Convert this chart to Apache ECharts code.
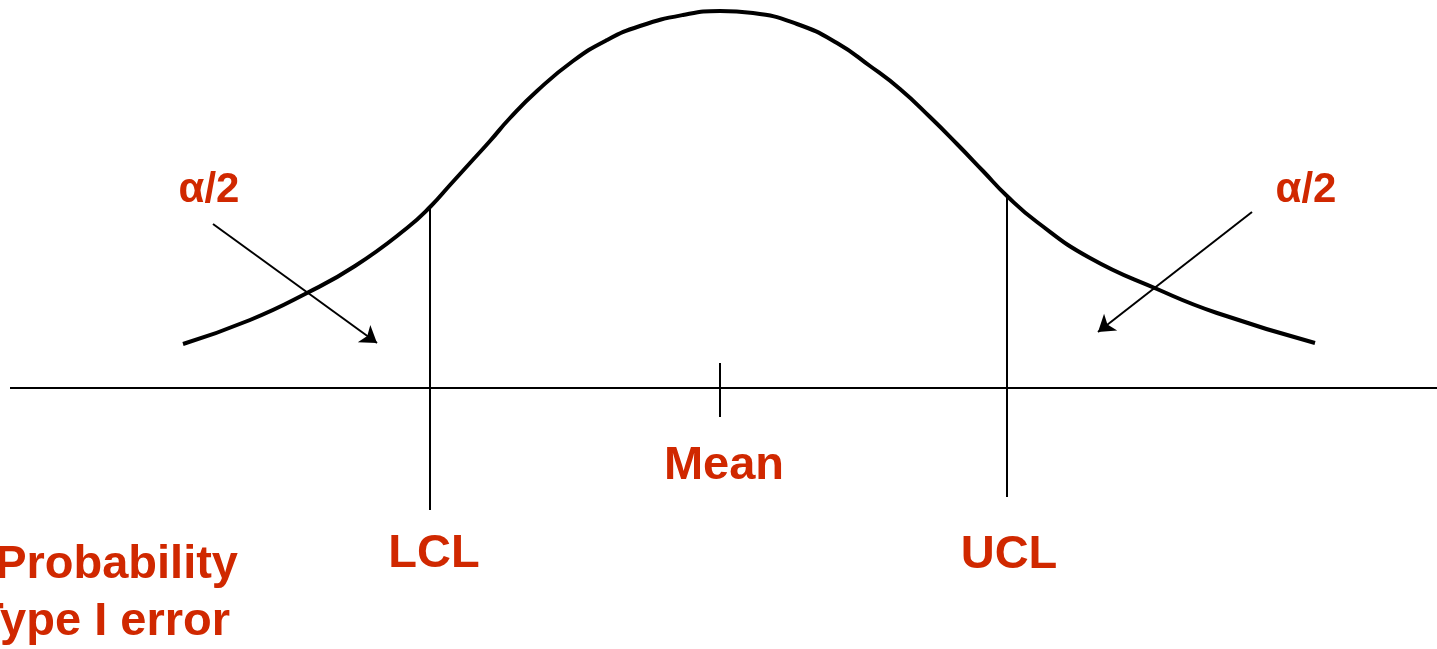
<!DOCTYPE html>
<html>
<head>
<meta charset="utf-8">
<script src="https://cdn.jsdelivr.net/npm/echarts@6/dist/echarts.min.js"></script>
<style>
  html, body { margin: 0; padding: 0; background: #fff; }
  #chart { width: 1437px; height: 649px; }
</style>
</head>
<body>
<div id="chart"></div>
<script>
// bell curve (x position, height above the baseline)
const curveX = [183, 250, 307, 355, 407, 431, 450, 470, 490, 510, 537, 573, 607, 640, 683, 720, 753, 797, 837, 870, 900, 930, 957, 983, 1007, 1037, 1090, 1157, 1217, 1315];
const curveY = [44, 68, 95, 122, 160, 182, 203, 225, 247, 270, 297, 327, 348, 362, 373, 377, 375, 364, 345, 322, 299, 271, 244, 217, 192, 166, 130, 99, 75, 45];

// control limits and mean
const limitX = [430, 1007];
const limitTop = [182, 192];
const limitBottom = [-122, -109];
const meanX = 720;
const meanTick = [25, -29];

// baseline
const baseFrom = 10;
const baseTo = 1437;

// arrows pointing at the tails: [x1, y1, x2, y2]
const arrowLeft = [213, 164, 377, 45];
const arrowRight = [1252, 176, 1098, 56];

// text labels
const bigText = ['Mean', 'LCL', 'UCL'];
const bigX = [724, 434, 1009];
const bigY = [-78, -166, -167];
const alphaText = ['α/2', 'α/2'];
const alphaX = [209, 1306];
const alphaY = [198, 198];
const noteText = ['Probability', 'Type I error'];
const noteX = [238, 230];
const noteY = [-177, -234];

const red = '#d02800';

let myChart = echarts.init(document.getElementById('chart'));

function seg(x1, y1, x2, y2) {
  return [[x1, y1], [x2, y2]];
}

let lineSeries = function (data, width) {
  return {
    type: 'line',
    data: data,
    symbol: 'none',
    silent: true,
    lineStyle: { color: '#000', width: width },
    z: 2
  };
};

let labels = [];
bigText.forEach((t, i) => {
  labels.push({ name: t, value: [bigX[i], bigY[i]], label: { fontSize: 47, align: 'center' } });
});
alphaText.forEach((t, i) => {
  labels.push({ name: t, value: [alphaX[i], alphaY[i]], label: { fontSize: 42, align: 'center' } });
});
noteText.forEach((t, i) => {
  labels.push({ name: t, value: [noteX[i], noteY[i]], label: { fontSize: 47, align: 'right' } });
});

myChart.setOption({
  animation: false,
  grid: { left: 0, right: 0, top: 0, bottom: 0 },
  xAxis: { type: 'value', min: 0, max: 1437, show: false },
  yAxis: { type: 'value', min: -261, max: 388, show: false },
  series: [
    {
      type: 'line',
      data: curveX.map((x, i) => [x, curveY[i]]),
      smooth: 0.5,
      symbol: 'none',
      silent: true,
      lineStyle: { color: '#000', width: 4 },
      z: 3
    },
    lineSeries(seg(baseFrom, 0, baseTo, 0), 2),
    lineSeries(seg(limitX[0], limitTop[0], limitX[0], limitBottom[0]), 2),
    lineSeries(seg(limitX[1], limitTop[1], limitX[1], limitBottom[1]), 2),
    lineSeries(seg(meanX, meanTick[0], meanX, meanTick[1]), 2),
    {
      type: 'line',
      data: [],
      markLine: {
        silent: true,
        symbol: ['none', 'arrow'],
        symbolSize: 16,
        label: { show: false },
        lineStyle: { color: '#000', width: 2, type: 'solid' },
        data: [
          [{ coord: [arrowLeft[0], arrowLeft[1]] }, { coord: [arrowLeft[2], arrowLeft[3]] }],
          [{ coord: [arrowRight[0], arrowRight[1]] }, { coord: [arrowRight[2], arrowRight[3]] }]
        ]
      }
    },
    {
      type: 'scatter',
      symbolSize: 0,
      silent: true,
      itemStyle: { opacity: 1 },
      data: labels,
      label: {
        show: true,
        opacity: 1,
        position: 'inside',
        verticalAlign: 'middle',
        formatter: p => p.name,
        color: red,
        fontWeight: 'bold',
        fontFamily: '"Liberation Sans", Arial, Helvetica, sans-serif'
      },
      z: 4
    }
  ]
});

window.addEventListener('resize', () => {
  if (myChart) {
    myChart.resize();
  }
});
</script>
</body>
</html>
